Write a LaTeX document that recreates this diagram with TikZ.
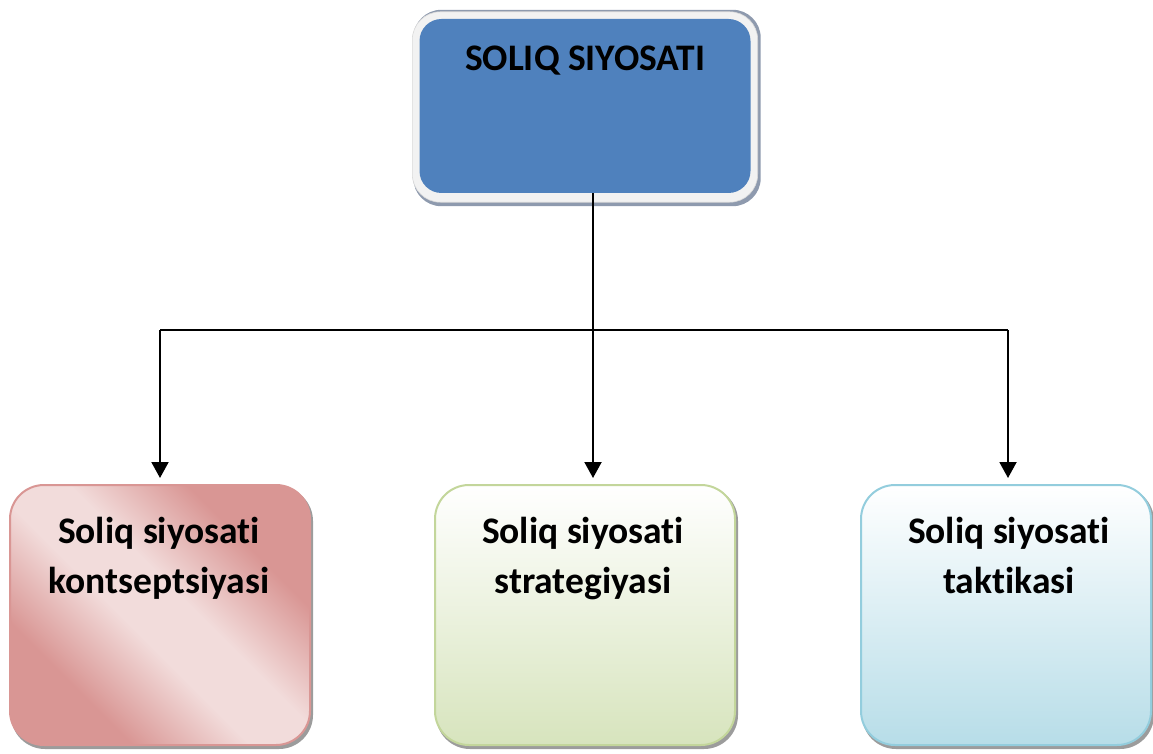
\documentclass[tikz,border=0pt]{standalone}
\usepackage{fontspec}
\setmainfont{Carlito}[Ligatures=NoCommon]
\usetikzlibrary{arrows.meta,calc,backgrounds}

\definecolor{topblue}{HTML}{4F81BD}
\definecolor{ringgray}{HTML}{F2F2F2}
\definecolor{ringedge}{HTML}{D9D9D9}
\definecolor{topshadow}{HTML}{8E9AAE}
\definecolor{pkdark}{HTML}{D99694}
\definecolor{pklight}{HTML}{F2DCDB}
\definecolor{pkedge}{HTML}{D99694}
\definecolor{gredge}{HTML}{C3D69B}
\definecolor{grfill}{HTML}{D7E4BD}
\definecolor{bledge}{HTML}{93CDDD}
\definecolor{blfill}{HTML}{B7DDE8}
\definecolor{cardshadow}{HTML}{9C9C9C}

% diagonal band: dark corners, light middle
\pgfdeclarehorizontalshading{pinkband}{100bp}{color(0bp)=(pkdark); color(30bp)=(pkdark); color(45bp)=(pklight); color(55bp)=(pklight); color(70bp)=(pkdark); color(100bp)=(pkdark)}

\begin{document}
\begin{tikzpicture}[x=1pt,y=-1pt,
  card/.style={rectangle, rounded corners=34pt, minimum width=300pt,
    minimum height=260pt, line width=2pt, inner sep=0pt},
  lbl/.style={font=\fontsize{37.5}{50}\selectfont\bfseries, align=center, inner sep=0pt},
  link/.style={line width=2pt},
  arr/.style={link, -{Triangle[width=17pt,length=16pt]}, shorten >=6pt}]
\useasboundingbox (0,0) rectangle (1153,754);

% head box
\node[rectangle, rounded corners=22pt, minimum width=331pt, minimum height=174pt,
  fill=topblue, inner sep=0pt] (top) at (585,106) {};
\node[lbl, anchor=base] (toptext) at (585,71) {SOLIQ SIYOSATI};

% three cards
\node[card, draw=pkedge, shading=pinkband, shading angle=45] (b1) at (160,615) {};
\node[card, draw=gredge, top color=white, bottom color=grfill] (b2) at (585,615) {};
\node[card, draw=bledge, top color=white, bottom color=blfill,
  minimum width=290pt] (b3) at (1006,615) {};

% multi-line labels: base anchor sits on the last line
\node[lbl, anchor=base] (t1) at (159,593) {Soliq siyosati\\kontseptsiyasi};
\node[lbl, anchor=base] (t2) at (583,593) {Soliq siyosati\\strategiyasi};
\node[lbl, anchor=base] (t3) at (1009,593) {Soliq siyosati\\taktikasi};

% shadows and frame
\begin{scope}[on background layer]
  \fill[topshadow, rounded corners=28pt]
    ($(top.south west)+(-6,13)$) rectangle ($(top.north east)+(10,-9)$);
  \filldraw[fill=ringgray, draw=ringedge, line width=0.6pt, rounded corners=28pt]
    ($(top.south west)+(-7,9)$) rectangle ($(top.north east)+(7,-7)$);
  \foreach \b in {b1,b2,b3}
    \fill[cardshadow, rounded corners=34pt]
      ($(\b.south west)+(2,3)$) rectangle ($(\b.north east)+(2,3)$);
\end{scope}

% connectors
\coordinate (j)  at (593,330);
\coordinate (jl) at (160,330);
\coordinate (jr) at (1008,330);
\draw[link] (top.south -| j) -- (j);
\draw[link] (jl) -- (jr);
\draw[arr] (jl) -- (jl |- b1.north);
\draw[arr] (j) -- (j |- b2.north);
\draw[arr] (jr) -- (jr |- b3.north);
\end{tikzpicture}
\end{document}
